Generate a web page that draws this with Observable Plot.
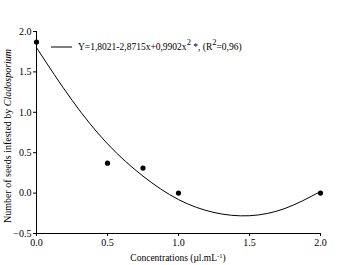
<!DOCTYPE html>
<html><head><meta charset="utf-8">
<script src="https://cdn.jsdelivr.net/npm/d3@7"></script>
<script src="https://cdn.jsdelivr.net/npm/@observablehq/plot@0.6"></script>
<style>body{margin:0;background:#fff;} svg{font-family:"Liberation Serif","Times New Roman",serif;}</style>
</head><body><div id="chart"></div>
<script>
const concentrations = [0, 0.5, 0.75, 1.0, 2.0];
const seedsInfested = [1.87, 0.37, 0.31, 0.0, 0.0];
const curveX = [0, 0.25, 0.5, 0.75, 1.0, 1.25, 1.5, 1.75, 2.0];
const curveY = [1.80, 1.15, 0.61, 0.21, -0.08, -0.24, -0.28, -0.19, 0.02];
const xTicks = [0, 0.5, 1.0, 1.5, 2.0];
const yTicks = [-0.5, 0, 0.5, 1.0, 1.5, 2.0];

const points = concentrations.map((c, i) => ({x: c, y: seedsInfested[i]}));
const fit = curveX.map((c, i) => ({x: c, y: curveY[i]}));

const W = 337, H = 265;
const svg = Plot.plot({
  width: W, height: H,
  marginLeft: 36, marginRight: 17, marginTop: 31, marginBottom: 32,
  style: {fontFamily: "Liberation Serif, serif", fontSize: "10px", color: "#000", background: "#fff"},
  x: {domain: [0, 2], ticks: xTicks, tickFormat: d3.format(".1f"), tickSize: 3, label: null},
  y: {domain: [-0.5, 2], ticks: yTicks, tickFormat: d3.format(".1f"), tickSize: 3, label: null},
  marks: [
    Plot.ruleX([0], {y1: -0.5, y2: 2, stroke: "#000", strokeWidth: 1}),
    Plot.ruleY([-0.5], {x1: 0, x2: 2, stroke: "#000", strokeWidth: 1}),
    Plot.line(fit, {x: "x", y: "y", curve: "natural", stroke: "#000", strokeWidth: 1}),
    Plot.dot(points, {x: "x", y: "y", r: 2.6, fill: "#000", stroke: "none"}),
    Plot.axisX({ticks: xTicks, tickFormat: d3.format(".1f"), tickSize: 3, tickPadding: 2, label: null}),
    Plot.axisY({ticks: yTicks, tickFormat: d3.format(".1f"), tickSize: 3, tickPadding: 2, label: null})
  ]
});
document.getElementById("chart").appendChild(svg);

const s = d3.select(svg);
// legend
s.append("line").attr("x1", 51).attr("x2", 72).attr("y1", 47).attr("y2", 47).attr("stroke", "#000").attr("stroke-width", 1);
const lt = s.append("text").attr("x", 78).attr("y", 50).attr("text-anchor", "start").attr("font-size", "9.5px").attr("fill", "#000");
lt.append("tspan").text("Y=1,8021-2,8715x+0,9902x");
lt.append("tspan").attr("dy", -5).attr("font-size", "8.5px").text("2");
lt.append("tspan").attr("dy", 5).text(" *, (R");
lt.append("tspan").attr("dy", -5).attr("font-size", "8.5px").text("2");
lt.append("tspan").attr("dy", 5).text("=0,96)");
// x title
const xt = s.append("text").attr("x", 178).attr("y", 261).attr("text-anchor", "middle").attr("font-size", "9.5px").attr("fill", "#000");
xt.append("tspan").text("Concentrations (µl.mL");
xt.append("tspan").attr("dy", -3).attr("font-size", "6.5px").text("-1");
xt.append("tspan").attr("dy", 3).text(")");
// y title
const yt = s.append("text").attr("transform", "translate(11,136) rotate(-90)").attr("text-anchor", "middle").attr("font-size", "10px").attr("fill", "#000");
yt.append("tspan").text("Number of seeds infested by ");
yt.append("tspan").attr("font-style", "italic").text("Cladosporium");
</script>
</body></html>
